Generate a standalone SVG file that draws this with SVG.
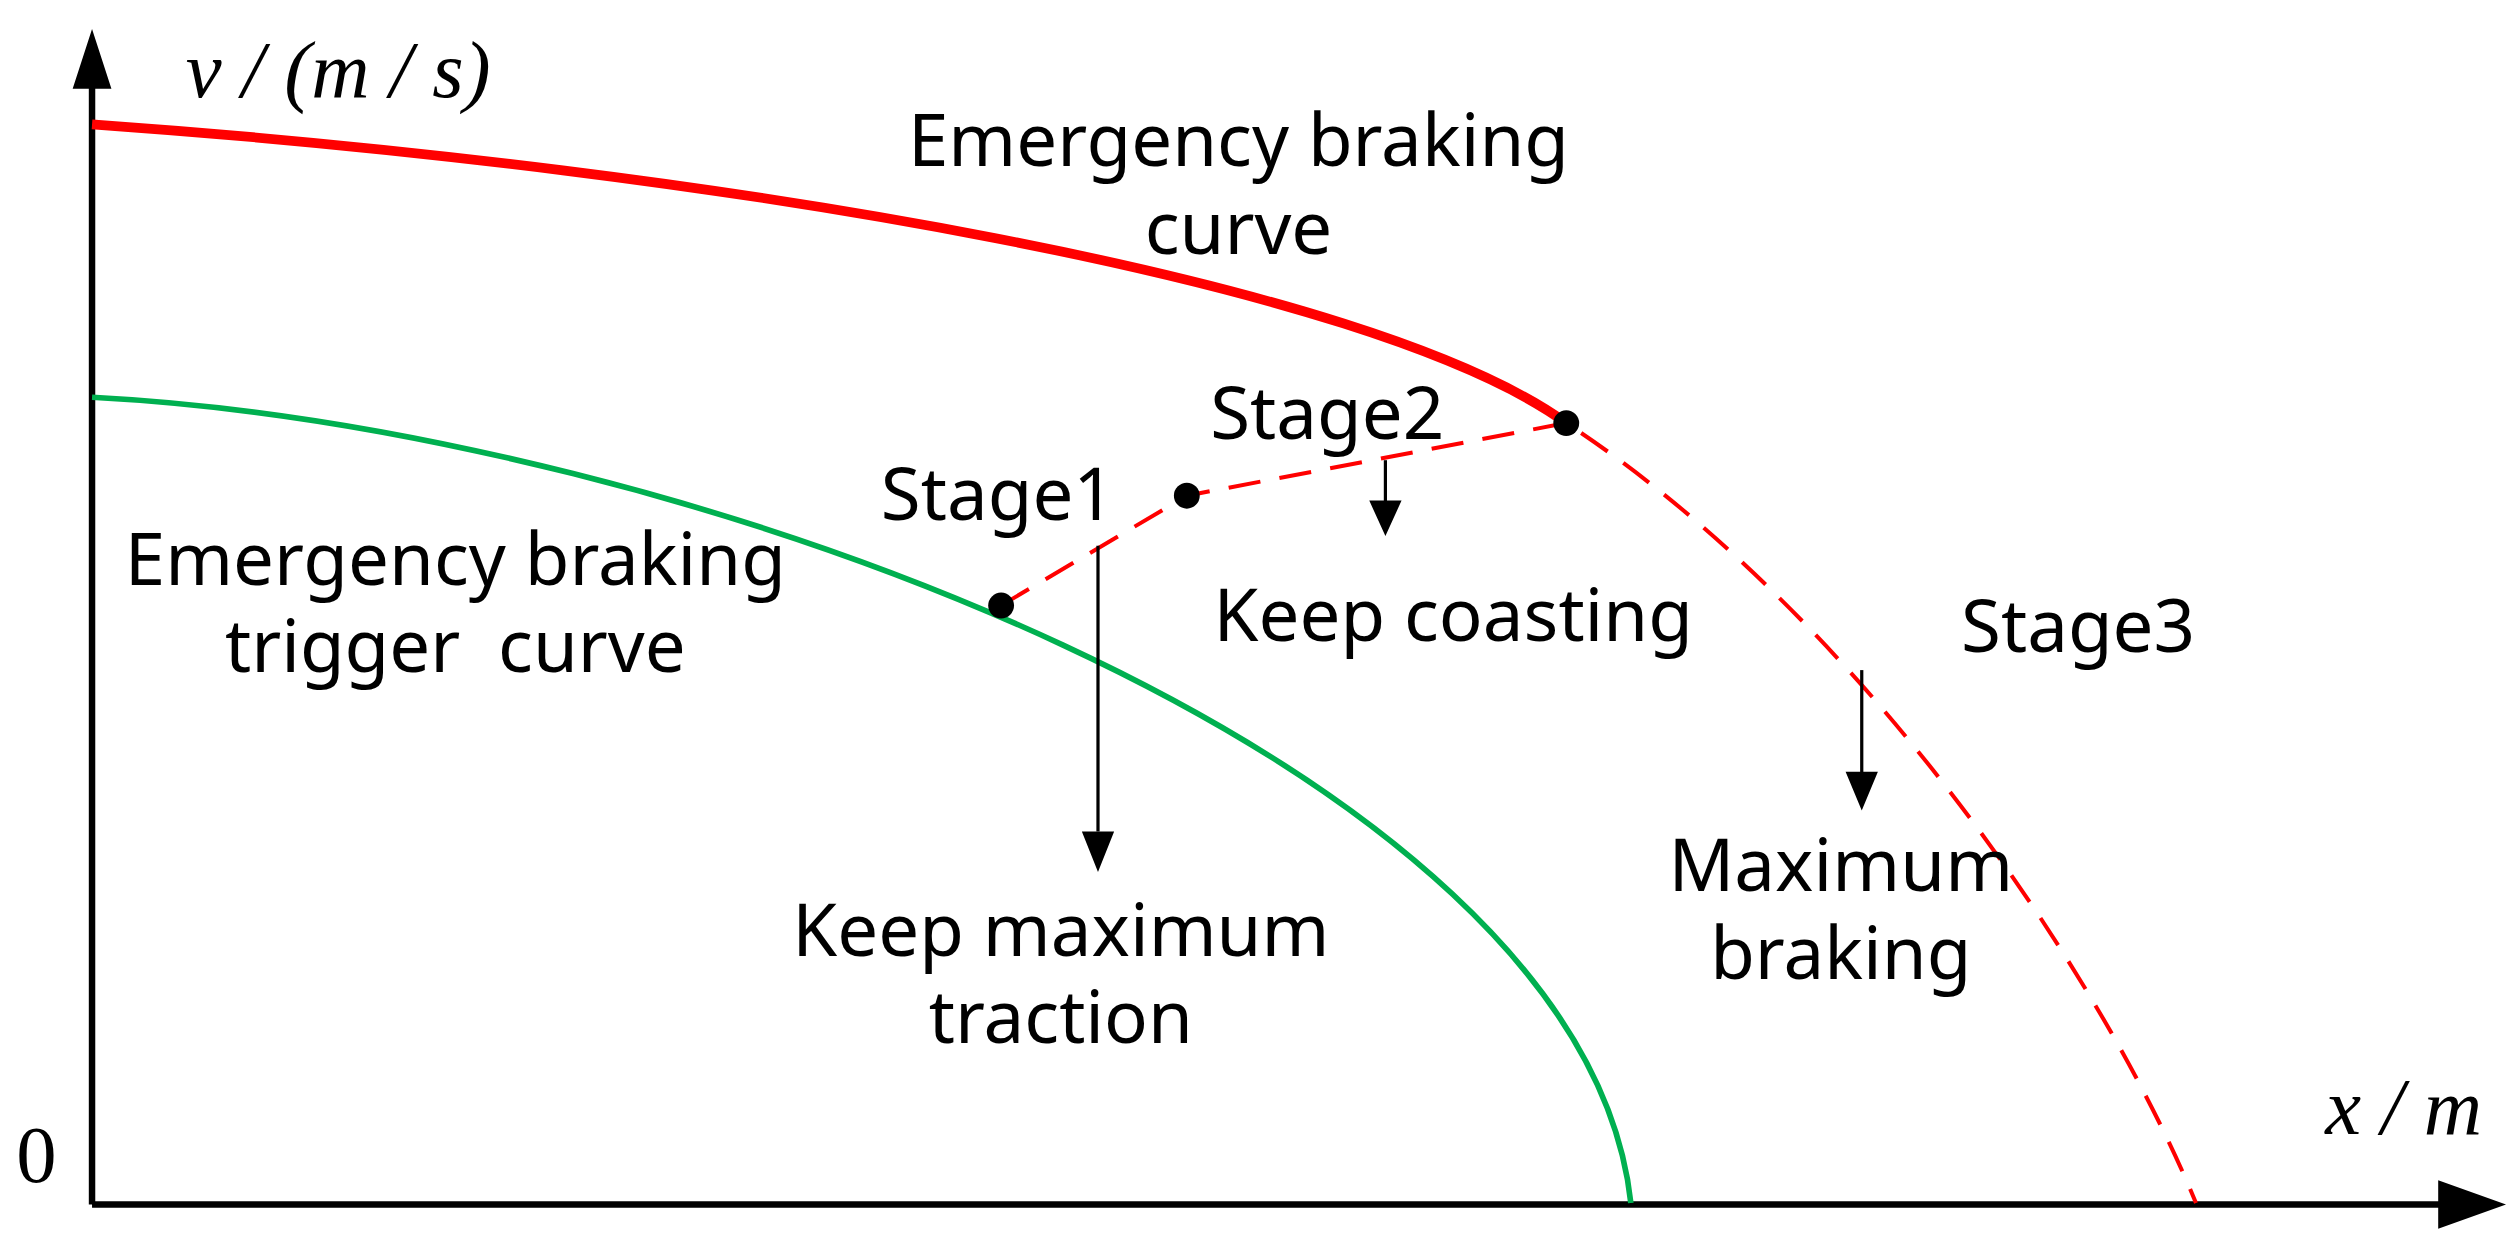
<svg xmlns="http://www.w3.org/2000/svg" width="2519" height="1251" viewBox="0 0 2519 1251">
<style>
.t{font-family:"Noto Sans","DejaVu Sans",sans-serif;font-size:45px;fill:#000;text-anchor:middle}
.m{font-family:"Liberation Serif",serif;font-style:italic;font-size:50px;fill:#000}
</style>
<rect width="2519" height="1251" fill="#fff"/>
<g transform="scale(1.6147)">
<g id="axes">
<path d="M57,746 V50 M57,746 H1515" stroke="#000" stroke-width="4" fill="none"/>
<path d="M57,18 L45,55 L69,55Z M1552,746 L1510,731 L1510,761Z"/>
</g>
<g id="curves" fill="none">
<path d="M57,77 C450,105 850,175 970,262" stroke="#f00" stroke-width="6"/>
<path d="M57,246 C420,265 980,470 1010,745" stroke="#00b050" stroke-width="3.5"/>
<path d="M620,375 L735,307 L970,262 C1150,380 1300,600 1360,745" stroke="#f00" stroke-width="2.5" stroke-dasharray="20,12"/>
</g>
<g id="dots"><circle cx="620" cy="375" r="8"/><circle cx="735" cy="307" r="8"/><circle cx="970" cy="262" r="8"/></g>
<g id="connectors" stroke="#000" stroke-width="2">
<path d="M680,338 V515"/><path d="M858,285 V312"/><path d="M1153,415 V480"/>
<path d="M670,515 L690,515 L680,540Z M848,310 L868,310 L858,332Z M1143,478 L1163,478 L1153,502Z" stroke="none"/>
</g>
<g id="labels">
<text class="m" x="115" y="60">v / (m / s)</text>
<text class="m" x="1440" y="702">x / m</text>
<text x="10" y="732" style="font-family:'Liberation Serif',serif;font-size:50px">0</text>
<text class="t" x="767" y="103">Emergency braking</text>
<text class="t" x="767" y="157">curve</text>
<text class="t" x="822" y="272">Stage2</text>
<text class="t" x="618" y="322">Stage1</text>
<text class="t" x="282" y="362">Emergency braking</text>
<text class="t" x="282" y="416" xml:space="preserve">trigger  curve</text>
<text class="t" x="900" y="397">Keep coasting</text>
<text class="t" x="1287" y="404">Stage3</text>
<text class="t" x="1140" y="552">Maximum</text>
<text class="t" x="1140" y="606">braking</text>
<text class="t" x="657" y="592">Keep maximum</text>
<text class="t" x="657" y="646">traction</text>
</g>
</g>
</svg>
